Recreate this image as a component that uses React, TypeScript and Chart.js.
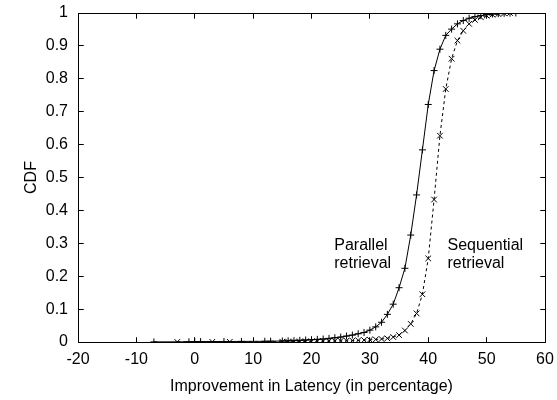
import React, { useEffect, useRef } from "react";
import { Chart, registerables } from "chart.js";

Chart.register(...registerables);

const parallelX = [-7, -1, 0, 1, 5, 8, 12, 13, 15, 16, 17, 18, 19, 20, 21, 22, 23, 24, 25, 26, 27, 28, 29, 30, 31, 32, 33, 34, 35, 36, 37, 38, 39, 40, 41, 42, 43, 44, 45, 46, 47, 48, 49, 50, 51, 52, 53, 54, 55];
const parallelY = [0.0003, 0.0006, 0.0009, 0.0012, 0.0015, 0.0018, 0.0021, 0.0024, 0.003, 0.0035, 0.004, 0.005, 0.006, 0.007, 0.008, 0.009, 0.011, 0.013, 0.015, 0.018, 0.021, 0.025, 0.029, 0.036, 0.046, 0.06, 0.084, 0.115, 0.165, 0.224, 0.325, 0.447, 0.584, 0.722, 0.825, 0.89, 0.932, 0.951, 0.967, 0.977, 0.984, 0.989, 0.992, 0.995, 0.997, 0.998, 0.999, 0.9995, 1.0];

const sequentialX = [-3, 3, 6, 15, 16, 17, 18, 19, 20, 21, 22, 23, 24, 25, 26, 27, 28, 29, 30, 31, 32, 33, 34, 35, 36, 37, 38, 39, 40, 41, 42, 43, 44, 45, 46, 47, 48, 49, 50, 51, 52, 53, 54];
const sequentialY = [0.0002, 0.0004, 0.0006, 0.0008, 0.001, 0.0012, 0.0014, 0.0016, 0.0018, 0.002, 0.0023, 0.0026, 0.003, 0.0034, 0.0038, 0.0043, 0.005, 0.0058, 0.0067, 0.0078, 0.0092, 0.011, 0.015, 0.021, 0.035, 0.055, 0.087, 0.145, 0.254, 0.433, 0.627, 0.769, 0.861, 0.916, 0.946, 0.967, 0.979, 0.987, 0.992, 0.995, 0.997, 0.999, 1.0];

const xTicks = [-20, -10, 0, 10, 20, 30, 40, 50, 60];
const yTicks = [0, 0.1, 0.2, 0.3, 0.4, 0.5, 0.6, 0.7, 0.8, 0.9, 1];

const labelTexts = [["Parallel", "retrieval"], ["Sequential", "retrieval"]];
const labelX = [23.9, 43.3];
const labelY = [0.281, 0.281];

const FONT = "'Liberation Sans', Arial, Helvetica, sans-serif";

function drawFrame(chart: any) {
  const ctx = chart.ctx as CanvasRenderingContext2D;
  const xs = chart.scales.x;
  const ys = chart.scales.y;
  const L = Math.floor(xs.getPixelForValue(-20)) + 0.5;
  const R = Math.floor(xs.getPixelForValue(60)) + 0.5;
  const T = Math.floor(ys.getPixelForValue(1)) + 0.5;
  const B = Math.floor(ys.getPixelForValue(0)) + 0.5;
  ctx.save();
  ctx.setLineDash([]);
  ctx.strokeStyle = "rgba(0,0,0,1)";
  ctx.lineWidth = 1;
  ctx.beginPath();
  ctx.moveTo(L, T);
  ctx.lineTo(R, T);
  ctx.lineTo(R, B);
  ctx.stroke();
  const tl = 5;
  ctx.beginPath();
  xTicks.forEach((v) => {
    const px = Math.floor(xs.getPixelForValue(v)) + 0.5;
    ctx.moveTo(px, B);
    ctx.lineTo(px, B - tl);
    ctx.moveTo(px, T);
    ctx.lineTo(px, T + tl);
  });
  yTicks.forEach((v) => {
    const py = Math.floor(ys.getPixelForValue(v)) + 0.5;
    ctx.moveTo(L, py);
    ctx.lineTo(L + tl, py);
    ctx.moveTo(R, py);
    ctx.lineTo(R - tl, py);
  });
  ctx.stroke();
  ctx.restore();
}

const framePlugin = {
  id: "frameAndLabels",
  beforeDatasetsDraw(chart: any) {
    drawFrame(chart);
  },
  afterDraw(chart: any) {
    drawFrame(chart);
    const ctx = chart.ctx as CanvasRenderingContext2D;
    const xs = chart.scales.x;
    const ys = chart.scales.y;
    ctx.save();
    ctx.fillStyle = "#000";
    ctx.font = "16px " + FONT;
    ctx.textAlign = "left";
    ctx.textBaseline = "alphabetic";
    labelTexts.forEach((lines, i) => {
      const px = xs.getPixelForValue(labelX[i]);
      const py = ys.getPixelForValue(labelY[i]);
      lines.forEach((t, j) => ctx.fillText(t, px, py + j * 18.5));
    });
    ctx.restore();
  },
};

export default function App() {
  const ref = useRef<HTMLCanvasElement>(null);
  useEffect(() => {
    if (!ref.current) return;
    const chart = new Chart(ref.current, {
      type: "scatter",
      data: {
        datasets: [
          {
            label: "Parallel retrieval",
            data: parallelX.map((x, i) => ({ x, y: parallelY[i] })),
            showLine: true,
            borderColor: "#000",
            backgroundColor: "#000",
            borderWidth: 1,
            pointStyle: "cross",
            pointRadius: 3.5,
            pointBorderWidth: 1,
            pointBorderColor: "#000",
          },
          {
            label: "Sequential retrieval",
            data: sequentialX.map((x, i) => ({ x, y: sequentialY[i] })),
            showLine: true,
            borderColor: "#000",
            backgroundColor: "#000",
            borderWidth: 1,
            borderDash: [3, 3],
            pointStyle: "crossRot",
            pointRadius: 4,
            pointBorderWidth: 1,
            pointBorderColor: "#000",
          },
        ],
      },
      options: {
        animation: false,
        responsive: false,
        layout: { padding: { top: 13, right: 12, left: 0, bottom: 0 } },
        plugins: { legend: { display: false }, tooltip: { enabled: false } },
        scales: {
          x: {
            type: "linear",
            min: -20,
            max: 60,
            afterFit: (s: any) => { s.height = 58; s.paddingLeft = 0; s.paddingRight = 0; },
            afterBuildTicks: (s: any) => { s.ticks = xTicks.map((v) => ({ value: v })); },
            grid: { display: false, drawTicks: false },
            border: { display: true, color: "#000", width: 1 },
            ticks: { color: "#000", padding: 8, font: { family: FONT, size: 16 }, maxRotation: 0, autoSkip: false },
            title: { display: true, text: "Improvement in Latency (in percentage)", color: "#000", font: { family: FONT, size: 16 }, padding: { top: 0, bottom: 4 } },
          },
          y: {
            type: "linear",
            min: 0,
            max: 1,
            afterFit: (s: any) => { s.width = 78; s.paddingTop = 0; s.paddingBottom = 0; },
            afterBuildTicks: (s: any) => { s.ticks = yTicks.map((v) => ({ value: v })); },
            grid: { display: false, drawTicks: false },
            border: { display: true, color: "#000", width: 1 },
            ticks: {
              color: "#000",
              padding: 10,
              font: { family: FONT, size: 16 },
              autoSkip: false,
              callback: (v: any) => String(Number(Number(v).toFixed(1))),
            },
            title: { display: true, text: "CDF", color: "#000", font: { family: FONT, size: 16 }, padding: { top: 22, bottom: 0 } },
          },
        },
      },
      plugins: [framePlugin],
    });
    return () => chart.destroy();
  }, []);
  return (
    <div style={{ position: "absolute", left: 0, top: 0, width: 557, height: 400, background: "#fff" }}>
      <canvas ref={ref} width={557} height={400} style={{ display: "block" }} />
    </div>
  );
}
